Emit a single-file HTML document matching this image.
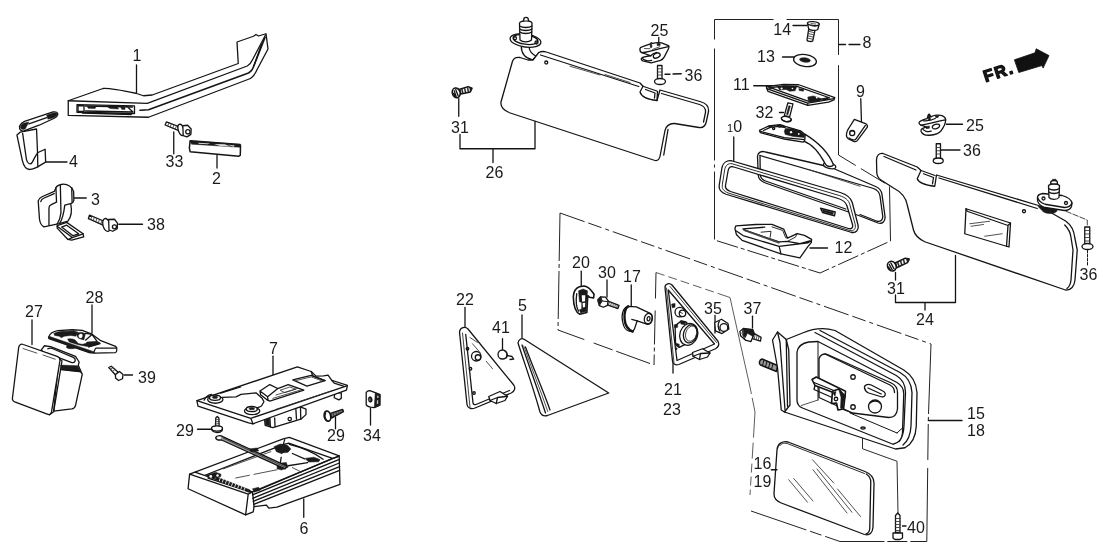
<!DOCTYPE html>
<html><head><meta charset="utf-8"><title>Parts diagram</title>
<style>
html,body{margin:0;padding:0;background:#fff;}
body{width:1108px;height:554px;overflow:hidden;}
svg{display:block;filter:grayscale(1)}
.l{fill:none;stroke:#141414;stroke-width:1.3px;stroke-linejoin:round;stroke-linecap:round;vector-effect:non-scaling-stroke}
.t{fill:none;stroke:#333;stroke-width:0.85px;stroke-linejoin:round;stroke-linecap:round;vector-effect:non-scaling-stroke}
.f{fill:#fff;stroke:#141414;stroke-width:1.3px;stroke-linejoin:round;stroke-linecap:round;vector-effect:non-scaling-stroke}
.k{fill:#1a1a1a;stroke:#1a1a1a;stroke-width:0.5px;stroke-linejoin:round;vector-effect:non-scaling-stroke}
.g{fill:#bbb;stroke:#1a1a1a;stroke-width:1px;stroke-linejoin:round;vector-effect:non-scaling-stroke}
.d{fill:none;stroke:#222;stroke-width:1px;vector-effect:non-scaling-stroke;stroke-dasharray:10 2.5 3 2.5}
text{font-family:"Liberation Sans",Arial,sans-serif;font-size:16px;fill:#1a1a1a}
</style></head><body>
<svg width="1108" height="554" viewBox="0 0 1108 554">
<rect width="1108" height="554" fill="#fff"/>
<!-- TILE A: handle (0,20) 4x -->
<g transform="translate(0,20) scale(0.25)">
<path class="f" d="M273 323 L412 274 C440 272 470 278 543 293 L574 303 L609 300 L953 174 L948 88 L1014 65 L1024 58 L1034 64 L1064 55 L1072 116 L1029 197 C1018 222 1008 232 994 237 L594 389 L273 381.5 Z"/>
<path class="l" d="M273 323 L589 333.5 L989 184 C1000 178 1005 170 1009 161 L1062 60"/>
<path class="l" d="M560 361 L594 359 L994 212 C1006 205 1012 195 1016 182 L1060 70" style="stroke-width:1.6px"/>
<path class="l" d="M1046 98 L1016 182" />
<path class="l" d="M308 338.5 L538 343.5 L538 374 L308 369 Z"/>
<path class="l" d="M312 342 L336 343 L336 366 L312 365 Z M342 344 L530 348 M342 364 L532 368 M508 346 L532 368 M330 372 L525 378"/>
<path class="k" d="M350 346 L385 347 L380 354 L352 353 Z M430 347 L470 348 L474 356 L440 354 Z M484 348 L500 349 L500 358 L486 357 Z"/>
<path class="l" d="M546 180 L546 290"/>
</g>
<!-- TILE B: (0,100) 4x -->
<g transform="translate(0,100) scale(0.25)">
<path class="l" d="M185 248 L268 248"/>
<path class="l" d="M695 128 L695 215"/>
<path class="l" d="M868 220 L868 272"/>
<path class="l" d="M296 392 L345 392"/>
<path class="l" d="M475 497 L570 497"/>
</g>
<!-- hook 4 hi-res tile (10,105) 7.9125x -->
<g transform="translate(10,105) scale(0.12638)">
<path class="f" d="M80 215 L55 238 L98 440 C110 490 135 512 160 510 C185 508 200 498 218 490 L282 452 L278 350 L218 378 L210 190 Z"/>
<path class="l" d="M100 225 L130 430 C138 465 160 475 175 455 C185 440 195 410 218 378 M218 378 L220 490"/>
<path class="f" d="M75 168 C85 145 100 135 115 130 L340 55 C365 50 380 60 378 75 C376 90 365 98 350 105 L230 160 L110 205 C90 210 72 195 75 168 Z"/>
<path class="k" d="M82 170 C90 150 105 142 125 140 L150 135 L120 190 C100 200 82 190 82 170 Z"/>
<path class="k" d="M290 80 L345 62 C365 58 375 65 372 78 C368 90 355 98 340 102 L300 112 Z"/>
<path class="l" d="M150 150 L290 100"/>
</g>
<!-- part 3 + screw 38 hi-res tile (30,175) 7.91x -->
<g transform="translate(30,175) scale(0.12642)">
<path class="f" d="M215 400 L290 375 L420 465 L425 490 L330 515 L300 510 L215 420 Z"/>
<path class="l" d="M250 412 L290 397 L385 465 L340 480 Z M420 465 L335 495 L300 510 M335 495 L215 405"/>
<path class="f" d="M65 205 C68 188 78 180 95 172 L192 130 L205 100 C215 82 235 75 260 73 C300 72 330 95 345 130 L347 200 C345 212 338 220 322 226 C335 290 320 340 300 365 L230 385 L110 410 C90 400 80 385 75 350 Z"/>
<path class="l" d="M205 100 L210 215 L168 235 C155 240 150 248 150 262 L150 398 M240 78 L245 300 C240 340 228 368 215 388 M322 226 L275 238 C268 300 255 350 235 382 M330 100 L333 215"/>
<path class="l" d="M85 210 C88 196 95 190 108 184 L192 148"/>
<!-- screw 38 -->
<path class="f" d="M470 318 L592 368 L582 398 L462 345 Z"/>
<path class="t" d="M490 326 L480 352 M510 334 L500 361 M530 342 L520 370 M550 351 L540 379 M570 360 L560 388"/>
<ellipse class="f" cx="605" cy="395" rx="28" ry="52" transform="rotate(-15 605 395)"/>
<path class="f" d="M622 352 L668 350 L692 380 L690 425 L655 445 L625 435 Z"/>
<circle class="l" cx="668" cy="410" r="16"/>
</g>
<!-- screw 33 hi-res tile (60,80) 7.914x -->
<g transform="translate(60,80) scale(0.12636)">
<path class="f" d="M842 332 L950 372 L940 400 L832 356 Z"/>
<path class="t" d="M862 340 L852 364 M882 347 L872 372 M902 355 L892 380 M922 362 L912 388"/>
<ellipse class="f" cx="958" cy="395" rx="22" ry="46" transform="rotate(-18 958 395)"/>
<path class="f" d="M972 362 L1010 358 L1038 388 L1036 430 L1005 450 L975 440 Z"/>
<circle class="l" cx="1012" cy="410" r="17"/>
</g>
<!-- part 2 hi-res (180,130) 13.85x -->
<g transform="translate(180,130) scale(0.0722)">
<path class="f" d="M140 150 L830 200 C838 205 840 215 838 230 L835 350 L815 362 L140 300 L130 250 Z" style="stroke-width:1.5px"/>
<path class="k" d="M140 150 L830 200 L836 240 L160 196 Z"/>
<path d="M250 178 L420 186 L380 198 L260 192 Z M470 195 L620 198 L700 230 L560 222 Z M660 205 L760 215 L740 232 Z" fill="#fff" opacity="0.85"/>
</g>
<!-- TILE C: (0,280) 4x -->
<g transform="translate(0,280) scale(0.25)">
<path class="l" d="M128 160 L128 258"/>
<path class="l" d="M368 100 L368 212"/>
<!-- screw 39 -->
<path class="f" d="M435 350 L445 345 L472 368 L462 380 Z"/>
<path class="t" d="M442 358 L452 350 M450 366 L460 358"/>
<path class="f" d="M462 378 L478 366 L492 378 L490 395 L474 402 L462 392 Z"/>
<path class="l" d="M497 380 L530 380"/>
</g>
<!-- part 28 hi-res tile (40,320) 12.31x -->
<g transform="translate(40,320) scale(0.081235)">
<ellipse class="k" cx="385" cy="328" rx="60" ry="26"/>
<path class="f" d="M105 212 C120 170 170 140 220 132 L400 120 L520 128 L640 175 L740 250 L930 325 C945 335 950 350 945 370 C942 390 938 400 930 402 L680 408 L600 400 L110 228 Z"/>
<path class="k" d="M105 212 L112 200 L610 372 L660 390 L680 408 L600 400 L110 228 Z"/>
<path class="k" d="M170 165 C200 148 260 140 300 140 L420 135 L470 150 L440 200 L380 190 L300 200 L260 220 L240 200 L180 190 Z"/>
<path class="k" d="M340 235 C380 225 430 235 445 260 L470 290 L520 300 L560 290 L580 270 L700 262 L740 280 L720 298 L600 330 L470 305 L360 270 Z"/>
<path class="k" d="M455 180 C460 160 480 150 505 150 L560 165 L540 245 L500 235 C470 225 450 205 455 180 Z"/>
<ellipse cx="500" cy="196" rx="24" ry="28" fill="#fff" transform="rotate(20 500 196)"/>
<path class="l" d="M560 165 L640 178 L700 260 M640 178 L560 248"/>
<path class="l" d="M600 332 L740 292 M665 392 C672 370 676 355 690 345 L935 345"/>
</g>
<!-- part 27 hi-res tile (0,335) 6.518x -->
<g transform="translate(0,335) scale(0.15342)">
<path class="f" d="M268 98 L290 70 L330 76 L492 140 L516 176 L510 198 L536 256 L492 460 C488 474 480 480 468 482 L350 496 L380 200 Z"/>
<path class="l" d="M312 90 C320 84 330 84 340 88 L478 146 C490 152 494 162 488 172 C484 180 474 182 464 178 L300 116"/>
<path class="k" d="M395 196 L505 200 L534 254 L520 240 L400 226 Z"/>
<path class="l" d="M400 226 L520 238"/>
<path class="f" d="M122 80 C126 62 138 56 152 62 L372 140 C388 146 394 156 390 172 L336 500 C332 518 322 522 308 516 L96 436 C82 430 78 420 82 404 Z"/>
<path class="l" d="M390 160 L404 168 L350 500 L322 520"/>
<path class="t" d="M150 88 L240 118 M280 130 L360 158"/>
</g>
<!-- TILE D: (170,330) 4x : part 7, screws 29, nut 34 -->
<g transform="translate(170,330) scale(0.25)">
<path class="l" d="M412 105 L412 185"/>
<path class="l" d="M110 397 L165 397"/>
<path class="l" d="M662 348 L662 395"/>
<path class="l" d="M802 312 L802 380"/>
</g>
<g transform="translate(170,416) scale(0.25)">
<path class="l" d="M535 332 L535 405"/>
</g>
<!-- plate 7 hi-res tile (190,360) 6.518x -->
<g transform="translate(190,360) scale(0.15342)">
<path class="f" d="M485 376 L520 360 L720 305 L756 320 L756 356 L722 386 L540 440 L490 426 Z"/>
<path class="l" d="M520 362 L524 436 M552 378 L554 432 M690 318 L694 386 M720 305 L722 386"/>
<path class="k" d="M490 380 L518 368 L520 430 L492 422 Z"/>
<circle class="l" cx="650" cy="385" r="11"/>
<path class="f" d="M940 246 L944 214 L986 214 L986 250 L970 260 Z"/>
<path class="f" d="M45 265 L700 45 L790 75 L822 105 L870 104 L900 98 L924 132 L1026 166 L1020 196 L410 416 L382 410 L52 300 Z"/>
<path class="l" d="M45 265 L396 380 L1022 168 M396 380 L410 416"/>
<path class="l" d="M92 262 C100 240 120 228 140 224 M210 244 L300 240 L332 224 L430 214 L470 250 L482 272 L466 300 L440 312 M200 216 L330 176"/>
<path class="l" d="M456 202 L520 160 L572 186 L506 240 Z M506 240 L508 262 M456 202 L460 226 L506 262"/>
<path class="l" d="M572 186 L640 160 L742 196 L520 268 L508 262"/>
<path class="t" d="M560 228 L700 186 M540 250 L720 196 M590 196 L650 176 L690 190 L620 212 Z"/>
<path class="l" d="M670 130 L790 100 L880 134 L762 170 Z"/>
<path class="t" d="M690 134 L790 110 L860 136"/>
<path class="l" d="M790 75 L800 104 L880 134 M924 132 L940 150 L1000 170"/>
<path class="t" d="M560 322 L920 202"/>
<ellipse class="f" cx="165" cy="258" rx="50" ry="24"/><ellipse class="f" cx="163" cy="246" rx="36" ry="17"/><ellipse class="k" cx="163" cy="243" rx="18" ry="8"/>
<ellipse class="f" cx="405" cy="332" rx="50" ry="24"/><ellipse class="f" cx="403" cy="320" rx="36" ry="17"/><ellipse class="k" cx="403" cy="317" rx="18" ry="8"/>
<!-- screw 29 left -->
<path class="f" d="M168 378 L178 368 L188 378 L190 432 L166 432 Z"/>
<path class="t" d="M166 390 L190 386 M166 404 L190 400 M166 418 L190 414"/>
<ellipse class="f" cx="176" cy="446" rx="36" ry="17"/>
<path class="l" d="M142 450 L146 462 C160 476 196 476 208 462 L210 450"/>
<!-- screw 29 right -->
<path class="f" d="M915 348 L994 322 L1000 336 L922 378 Z" style="fill:#777;stroke-width:1.5px"/>
<path class="t" d="M932 346 L940 366 M950 340 L958 358 M968 334 L976 350"/>
<ellipse class="f" cx="896" cy="366" rx="21" ry="33" transform="rotate(-12 896 366)" style="stroke-width:1.7px"/>
<path class="l" d="M884 345 C878 360 880 380 890 392"/>
</g>
<!-- tray 6 hi-res tile (185,432) 6.518x -->
<g transform="translate(185,432) scale(0.15342)">
<path class="f" d="M65 262 L640 45 L680 35 L1005 155 L1010 342 L600 490 L546 496 L530 476 L450 486 L445 520 L395 540 L20 370 L30 275 Z"/>
<path class="l" d="M30 275 L412 405 L440 390 L65 262 M412 405 L395 540 M440 390 L450 486"/>
<path class="l" d="M440 390 L1005 155 M440 410 L1006 178 M442 432 L1006 202 M445 452 L1008 226 M448 472 L1008 250"/>
<path class="l" d="M130 282 L640 82 L676 72 L962 172 L480 378 M640 82 L650 50 M962 172 L1000 160"/>
<path class="l" d="M150 300 L440 395 M640 82 L620 210"/>
<path class="t" d="M330 300 L420 282 M450 276 L600 246 M250 240 L560 128 M700 232 L760 262"/>
<path class="k" d="M205 292 L425 378 L420 395 L200 310 Z"/>
<path class="t" style="stroke:#fff" d="M230 300 L224 318 M250 308 L244 326 M270 316 L264 334 M290 324 L284 342 M310 332 L304 350 M330 340 L324 358 M350 348 L344 366 M370 356 L364 374 M390 364 L384 382"/>
<path class="k" d="M140 280 L200 262 L235 275 L232 292 L190 300 L150 296 Z"/>
<circle cx="168" cy="290" r="9" fill="#fff"/><circle cx="212" cy="284" r="8" fill="#fff"/>
<path class="k" d="M580 96 L620 78 L668 86 L690 110 L672 132 L622 138 L596 128 Z"/>
<path class="k" d="M600 205 L660 198 L672 230 L630 248 L600 240 Z"/>
<path class="k" d="M782 172 L840 164 L880 180 L872 194 L806 196 Z"/>
<path class="l" d="M680 80 C760 100 840 130 900 178 M672 220 L800 200 M700 140 L780 175"/>
<ellipse cx="632" cy="152" rx="16" ry="9" fill="#fff" transform="rotate(-20 632 152)"/>
<path class="k" d="M440 370 L480 360 L490 380 L450 392 Z"/>
<!-- bracket bar -->
<path class="f" d="M200 36 C202 24 230 20 246 30 L664 222 L652 240 L238 52 C220 56 198 50 200 36 Z" style="fill:#9a9a9a"/>
<ellipse cx="222" cy="38" rx="14" ry="8" fill="#fff"/>
<path class="t" d="M250 40 L655 230"/>
<path class="k" d="M420 110 L470 104 L480 124 L430 130 Z"/>
</g>
<!-- nut 34 hi-res (320,380) 13.85x -->
<g transform="translate(320,380) scale(0.0722)">
<path class="f" d="M640 175 C642 160 655 150 690 146 L765 176 L832 202 L830 350 L752 382 L700 376 C660 365 642 355 640 340 Z"/>
<path class="k" d="M765 176 L832 202 L830 350 L752 382 Z"/>
<path d="M790 215 L812 222 L810 250 L790 245 Z M788 280 L808 282 L806 330 L786 335 Z" fill="#fff" opacity="0.7"/>
<ellipse class="k" cx="696" cy="270" rx="28" ry="40" transform="rotate(-8 696 270)"/>
<ellipse cx="690" cy="272" rx="10" ry="18" fill="#777"/>
</g>
<!-- TILE F: (440,0) 4x : left visor 26 -->
<g transform="translate(440,0) scale(0.25)">
<!-- hinge arm -->
<path class="f" d="M325 185 C325 215 340 232 370 240 L385 225 C365 215 358 205 356 188 Z"/>
<!-- visor -->
<path class="f" d="M290 245 C295 232 305 228 320 230 L352 240 L372 240 L395 210 C405 205 415 205 425 208 L800 332 L812 345 L800 368 C805 385 830 398 868 402 L880 360 L1043 407 C1064 413 1076 425 1074 446 L1065 488 C1061 505 1050 512 1036 510 L938 494 C918 493 905 503 900 522 L882 615 C880 635 872 646 857 641 L278 451 C256 442 241 428 244 408 Z"/>
<path class="l" d="M402 220 L795 346 M886 374 L1038 418 C1056 424 1064 434 1062 450 L1054 488 M912 518 L895 620"/>
<path class="l" d="M812 345 L870 365 L868 402 M822 358 L860 372 L858 392"/>
<path class="t" d="M520 265 L640 300 M660 298 L760 330"/>
<circle class="l" cx="425" cy="250" r="6"/>
<!-- hinge mount -->
<ellipse class="f" cx="342" cy="162" rx="62" ry="26" transform="rotate(8 342 162)"/>
<ellipse class="l" cx="342" cy="158" rx="50" ry="19" transform="rotate(8 342 158)"/>
<circle class="l" cx="300" cy="153" r="6"/><circle class="l" cx="386" cy="170" r="6"/>
<path class="f" d="M318 92 L320 160 C330 170 355 170 366 160 L368 92 C362 80 326 80 318 92 Z"/>
<path class="l" d="M318 104 C330 112 356 112 368 104 M318 116 C330 124 356 124 368 116 M319 128 C330 136 356 136 367 128"/>
<path class="f" d="M334 82 L336 73 C340 68 348 68 352 73 L354 82"/>
<path class="l" d="M75 395 L75 465"/>
<path class="l" d="M80 538 L80 595 L380 595 L380 486 M212 595 L212 650"/>
<path class="l" d="M875 150 L875 174"/>
<!-- bolt 36 -->
<path class="f" d="M870 262 L888 262 L888 318 L870 318 Z"/>
<path class="t" d="M870 275 L888 275 M870 288 L888 288 M870 300 L888 300"/>
<ellipse class="f" cx="880" cy="326" rx="22" ry="12"/>
<path class="l" d="M900 297 L920 297 M932 296 L965 295"/>
</g>
<!-- clip 25 left hi-res (630,35) 11.08x -->
<g transform="translate(630,35) scale(0.090253)">
<path class="f" d="M110 152 C112 140 125 135 140 130 L225 98 L235 86 L250 92 C280 84 320 82 350 88 L425 118 C434 124 432 140 426 152 L382 240 C370 262 355 275 338 282 L235 310 L142 286 C125 278 120 265 130 256 C140 246 160 240 230 230 L132 196 C118 190 108 175 110 152 Z"/>
<path class="l" d="M132 196 C180 190 260 170 330 150 L426 128 M230 230 C250 205 275 195 300 192 M140 262 C160 285 210 292 240 282"/>
<ellipse class="l" cx="296" cy="228" rx="40" ry="26" transform="rotate(-25 296 228)"/>
<path class="k" d="M222 104 L240 98 L244 135 L226 140 Z M300 92 L334 92 L334 116 L300 116 Z"/>
<path class="t" d="M160 150 L220 152 M250 160 L330 130"/>
</g>
<!-- screw 31 left hi-res (440,75) 18.47x -->
<g transform="translate(440,75) scale(0.054142)">
<path class="f" d="M365 262 L520 215 L592 245 L560 315 L385 352 Z" style="stroke-width:1.5px"/>
<path class="k" d="M395 262 L415 345 L432 342 L412 258 Z M445 248 L468 335 L485 330 L462 243 Z M498 232 L520 322 L536 318 L515 226 Z M545 228 L575 250 L560 305 Z"/>
<ellipse class="f" cx="300" cy="330" rx="72" ry="92" transform="rotate(-15 300 330)" style="stroke-width:1.6px"/>
<path class="l" d="M262 290 L300 400 M290 268 L335 385 M250 340 L285 410"/>
</g>
<!-- box 8 frame in source coords -->
<g>
<path class="d" d="M838.5 19.5 L714.5 19.5 L714.5 240 L820 273 L890.5 241" style="stroke-dasharray:52 13 79 9 112 4 3 4 68 3 22 3 4 3 22 3 4 3 22 3 4 3 22 3 4 3 22 3 4 3 22 3 4 3 22 3 4 3 22"/>
<path class="d" d="M838.5 19.5 L838.5 155 L889.5 186 L890.5 241" style="stroke-dasharray:35.4 10.3 110 6 28 6 200"/>
<path class="l" d="M838.5 44.5 L845.5 44.5 M849 44.5 L860 44.5"/>
</g>
<!-- TILE G: (700,0) 4x : box 8 top, 14,13,11,32,9 -->
<g transform="translate(700,0) scale(0.25)">
<path class="l" d="M372 102 L428 102"/>
<!-- 13 washer -->
<ellipse class="f" cx="420" cy="242" rx="46" ry="24" transform="rotate(8 420 242)"/>
<ellipse class="k" cx="420" cy="240" rx="22" ry="9" transform="rotate(8 420 240)"/>
<path class="l" d="M330 228 L376 228"/>
<path class="l" d="M215 343 L300 343"/>
<path class="l" d="M318 450 L334 450"/>
<path class="l" d="M643 395 L646 492"/>
</g>
<!-- TILE H: (700,100) 4x : mirror 10 -->
<g transform="translate(700,100) scale(0.25)">
<!-- rear housing -->
<path class="f" d="M230 225 C232 210 245 202 262 208 L520 268 L700 345 C718 352 726 362 728 378 L740 465 C742 485 730 498 712 492 L640 464 L262 332 C245 326 235 318 233 302 Z"/>
<path class="l" d="M240 222 L694 354 C710 360 718 370 720 384 L731 465 C732 480 722 488 708 485 L640 458"/>
<path class="l" d="M240 222 L241 300 C243 312 250 320 262 324 L583 436"/>
<path class="t" d="M440 280 L640 345"/>
<!-- tab -->
<path class="f" d="M482 433 L541 448 L538 463 L490 450 Z"/>
<path class="k" d="M488 438 L534 450 L532 458 L492 447 Z"/>
<!-- front frame (ring) -->
<path class="f" fill-rule="evenodd" d="M88 270 C92 252 106 240 126 243 L561 370 C590 379 603 390 609 410 L632 500 C636 520 624 534 604 529 L104 377 C84 370 74 358 77 340 Z M112 285 C114 272 120 264 132 267 L553 394 C575 401 584 410 588 424 L610 498 C613 510 606 518 594 514 L122 366 C106 360 100 352 102 342 Z"/>
<path class="l" d="M99 277 C102 262 112 252 128 255 L557 382 C582 390 594 400 599 417 L621 499 C624 515 615 526 599 522 L113 372 C95 365 87 355 89 341 Z" style="stroke-width:0.9px"/>
<path class="l" d="M135 148 L135 243"/>
<path class="l" d="M985 97 L1050 97"/>
<!-- bolt 36 right -->
<path class="f" d="M945 175 L962 175 L962 236 L945 236 Z"/>
<path class="t" d="M945 190 L962 190 M945 203 L962 203 M945 216 L962 216"/>
<ellipse class="f" cx="953" cy="243" rx="20" ry="11"/>
<path class="l" d="M965 200 L1040 200"/>
</g>
<!-- TILE I: (700,190) 4x : part 12, screw 31 right, bracket 24 -->
<g transform="translate(700,190) scale(0.25)">
<path class="l" d="M440 232 L510 232"/>
<path class="l" d="M782 330 L782 360 M782 420 L782 450 L1022 450 L1022 262 M900 450 L900 480"/>
</g>
<!-- clip 25 right hi-res (910,105) 11.08x -->
<g transform="translate(910,105) scale(0.090253)">
<path class="f" d="M100 192 C115 175 150 160 190 150 L205 105 C210 98 216 100 220 110 L232 132 C260 112 320 105 355 118 C380 128 395 145 395 165 C395 200 380 235 345 285 C320 315 280 330 220 335 C170 338 135 325 122 290 C120 275 125 265 140 260 L182 242 L120 222 C105 215 98 205 100 192 Z"/>
<path class="l" d="M120 222 C180 215 240 200 300 185 C340 175 370 170 395 165 M140 262 C150 290 200 302 235 290 M150 175 C200 180 240 170 280 150"/>
<ellipse class="l" cx="288" cy="238" rx="42" ry="24" transform="rotate(-18 288 238)"/>
<path class="k" d="M198 120 L222 112 L228 165 L204 172 Z M175 240 L215 232 L215 258 L180 262 Z M280 120 L320 118 L310 140 L285 140 Z"/>
</g>
<!-- screw 14 hi-res (755,15) 11.08x -->
<g transform="translate(755,15) scale(0.090253)">
<path class="f" d="M596 150 L576 278 C585 295 625 298 640 288 L664 172 Z"/>
<path class="t" d="M592 180 L658 196 M588 205 L654 221 M584 230 L649 246 M580 255 L644 270"/>
<path class="f" d="M582 96 L594 150 C610 172 670 178 696 160 L712 100 Z"/>
<ellipse class="f" cx="647" cy="96" rx="66" ry="22" transform="rotate(6 647 96)"/>
<path class="t" d="M620 96 L672 100 M630 120 L670 124"/>
</g>
<!-- plate 11 + bolt 32 hi-res (750,75) 11.08x -->
<g transform="translate(750,75) scale(0.090253)">
<path class="f" d="M180 130 L370 105 L540 108 L940 250 L930 276 L870 300 L640 336 L200 182 Z"/>
<path class="l" d="M186 152 L640 312 L930 262 M640 312 L640 336 M225 140 L380 122 L520 126 L880 252 L650 292 Z"/>
<path class="k" d="M300 128 L370 118 L520 124 L500 175 L440 180 L400 160 L330 165 Z"/>
<path class="k" d="M640 245 L700 232 L790 262 L770 290 L680 300 L645 280 Z"/>
<path class="k" d="M200 135 L240 130 L250 150 L215 156 Z M540 150 L600 160 L590 180 L545 172 Z M800 262 L850 255 L870 270 L820 282 Z"/>
<circle cx="350" cy="150" r="12" fill="#fff"/><circle cx="740" cy="250" r="10" fill="#fff"/><circle cx="470" cy="150" r="9" fill="#fff"/>
<!-- bolt 32 -->
<path class="f" d="M420 308 L476 320 L440 462 L380 450 Z"/>
<path class="k" d="M430 340 L448 344 L420 440 L404 436 Z"/>
<ellipse class="f" cx="402" cy="488" rx="56" ry="28" transform="rotate(12 402 488)"/>
<path class="l" d="M348 478 C350 500 380 520 420 515 C445 512 458 500 458 490"/>
</g>
<!-- mount + stem hi-res (750,115) 11.08x -->
<g transform="translate(750,115) scale(0.090253)">
<ellipse class="f" cx="882" cy="562" rx="70" ry="30" transform="rotate(15 882 562)"/>
<path class="f" d="M600 292 C680 320 760 400 838 548 C855 575 905 580 925 552 C880 440 800 330 608 212 Z"/>
<path class="f" d="M105 170 L210 120 L330 108 L390 125 L560 175 L610 215 L606 285 L590 300 L380 266 L115 196 Z"/>
<path class="l" d="M112 182 L380 250 L604 272 M150 172 L230 135 L330 125 L390 140"/>
<path class="k" d="M392 150 L470 150 L560 180 L604 218 L600 250 L480 238 L390 215 L380 180 Z"/>
<path class="k" d="M200 125 L240 118 L250 135 L215 142 Z M300 110 L370 112 L385 130 L320 138 Z"/>
<circle cx="455" cy="190" r="13" fill="#fff"/><circle cx="540" cy="210" r="10" fill="#fff"/>
<circle class="l" cx="262" cy="150" r="12"/>
</g>
<!-- part 12 hi-res (725,220) 11.08x -->
<g transform="translate(725,220) scale(0.090253)">
<path class="f" d="M120 65 L340 50 L520 48 L650 100 L692 200 L800 150 L880 170 L960 215 L956 250 L920 292 L830 420 L620 376 L190 226 L126 160 L110 95 Z"/>
<path class="l" d="M126 122 L200 172 L600 292 L920 252 L956 232 M600 292 L620 376 M200 98 L440 80 M200 98 L230 118 L600 242 L690 236 L830 262 L940 230"/>
<path class="l" d="M520 76 L640 116 L672 196 L692 200 M800 150 L780 190 L700 232 M400 135 L510 125 L500 192" style="stroke-width:0.9px"/>
<path class="l" d="M215 112 L596 250" style="stroke-width:2px;stroke:#444"/>
</g>
<!-- part 9 hi-res (830,100) 11.08x -->
<g transform="translate(830,100) scale(0.090253)">
<path class="f" d="M270 215 L400 265 C415 275 418 290 412 304 L302 450 C290 462 275 464 262 458 L205 432 C185 420 178 395 185 365 C192 340 200 325 210 310 Z"/>
<path class="l" d="M392 282 L282 438 M210 420 C235 440 262 445 282 438"/>
<circle class="l" cx="246" cy="366" r="28"/>
<path class="l" d="M232 350 C240 340 258 342 266 354" style="stroke-width:0.8px"/>
</g>
<!-- screw 31 right hi-res (875,248) 18.47x -->
<g transform="translate(875,248) scale(0.054142)">
<path class="f" d="M380 272 L560 188 L632 205 L600 270 L400 365 Z" style="stroke-width:1.5px"/>
<path class="k" d="M410 262 L435 345 L452 338 L428 254 Z M462 238 L488 320 L505 312 L480 230 Z M515 212 L540 296 L557 288 L532 205 Z M575 195 L620 212 L598 262 Z"/>
<ellipse class="f" cx="310" cy="335" rx="78" ry="92" transform="rotate(-25 310 335)" style="stroke-width:1.6px"/>
<path class="l" d="M262 300 L318 405 M292 275 L352 385 M250 350 L290 415"/>
</g>
<!-- TILE J: (831,130) 4x : right visor 24 -->
<g transform="translate(831,130) scale(0.25)">
<path class="f" d="M182 120 C182 102 192 92 208 94 L345 148 L360 162 L345 195 C350 210 375 220 415 225 L422 180 L830 302 L872 326 L940 365 C960 380 972 400 975 430 L985 480 L976 600 C974 625 960 642 938 640 L375 447 C350 435 335 420 330 400 L305 300 C300 270 285 250 250 232 L200 200 C188 192 184 185 183 170 Z"/>
<path class="l" d="M212 106 L340 160 M432 192 L825 314 M935 380 C950 395 958 410 960 430 L968 480 L960 600 C958 618 952 628 944 634"/>
<path class="l" d="M360 162 L416 182 M370 175 L410 190 L406 215"/>
<path class="f" d="M540 315 L718 372 L712 468 L535 415 Z"/>
<path class="l" d="M718 372 L708 382 L702 465 M540 315 L545 325 L708 382"/>
<path class="t" d="M555 375 L635 365 M560 385 L610 378 M615 425 L685 415"/>
<circle class="l" cx="772" cy="325" r="6"/>
<!-- hinge -->
<path class="k" d="M828 306 C840 296 900 310 905 322 C900 336 870 338 850 328 Z"/>
<path class="f" d="M826 270 C826 262 834 256 847 254 L925 262 C945 268 962 280 964 292 L962 306 C958 316 946 322 934 322 L856 310 C840 304 828 294 826 282 Z"/>
<path class="l" d="M826 270 C830 282 842 292 856 297 L934 310 C948 310 960 302 964 292"/>
<circle class="l" cx="850" cy="274" r="6"/><circle class="l" cx="940" cy="292" r="6"/>
<path class="f" d="M870 222 L872 270 C880 280 905 280 912 270 L914 222 C905 212 880 212 870 222 Z"/>
<path class="l" d="M870 234 C882 242 902 242 914 234 M871 248 C882 256 902 256 913 248"/>
<path class="f" d="M878 216 L880 206 C886 200 900 200 905 206 L906 216 Z"/>
<path class="k" d="M884 204 L886 197 L900 197 L902 204 Z"/>
<!-- dashed to bolt -->
<path class="l" d="M940 325 L1025 360 L1025 385" style="stroke-dasharray:5.5 2;stroke-width:0.8px"/>
<path class="f" d="M1015 388 L1035 388 L1035 456 L1015 456 Z"/>
<path class="t" d="M1015 402 L1035 402 M1015 416 L1035 416 M1015 430 L1035 430 M1015 444 L1035 444"/>
<ellipse class="f" cx="1026" cy="466" rx="22" ry="12"/>
<path class="l" d="M1026 482 L1026 545" style="stroke-dasharray:2.5 1.5;stroke-width:1px"/>
</g>
<!-- dash-dot boundaries in source coords -->
<g>
<path d="M560 213 L931 344" fill="none" stroke="#222" stroke-width="1" stroke-dasharray="26 4 14 4 4 4"/>
<path d="M931 344 L928.3 420 L926.8 541.5 L840 541.5 L751 511" fill="none" stroke="#222" stroke-width="1" stroke-dasharray="70 3 4 3 36 8 90 3 20 3 60 4 12 4"/>
<path d="M560 213 L558 330" fill="none" stroke="#222" stroke-width="1" stroke-dasharray="48 3 4 3"/>
<path d="M558 330 L654 365" fill="none" stroke="#222" stroke-width="1" stroke-dasharray="28 10 20 4 36 4"/>
<path d="M656 272.5 L654 365" fill="none" stroke="#222" stroke-width="1" stroke-dasharray="26 12 34 3 4 3"/>
<path d="M656 272.5 L730 297.5 L750 387 L755 412 L750 495" fill="none" stroke="#333" stroke-width="0.8" stroke-dasharray="9 4 9 4 9 4 9 4 9 4 12 0 100 4 40 5 16 5"/>
</g>
<!-- TILE K: (430,200) 4x : leaders 20,30,17 -->
<g transform="translate(430,200) scale(0.25)">
<path class="l" d="M605 285 L605 345"/>
<path class="l" d="M708 320 L708 388"/>
<path class="l" d="M805 340 L805 424"/>
</g>
<!-- 20,30,17 hi-res (565,280) 11.08x -->
<g transform="translate(565,280) scale(0.090253)">
<!-- 20 -->
<path class="f" d="M92 185 C95 130 120 90 160 75 L212 66 C250 72 285 100 322 158 L316 200 L272 192 L252 172 L242 360 L165 380 C120 360 95 300 92 185 Z" style="stroke-width:1.6px"/>
<path class="k" d="M150 120 L200 100 L250 120 L245 175 L236 350 L172 365 L160 330 L185 320 L185 250 L160 240 Z"/>
<path d="M185 170 L225 168 L222 235 L190 240 Z M195 255 L225 252 L222 300 L198 305 Z" fill="#fff"/>
<path class="l" d="M130 150 C120 220 125 300 150 345"/>
<!-- 30 -->
<path class="f" d="M470 232 L598 282 L586 316 L462 272 Z"/>
<path class="t" d="M492 240 L482 278 M515 250 L505 287 M538 258 L528 296 M560 267 L550 304 M580 275 L571 311"/>
<path class="f" d="M362 220 L395 186 L450 190 L478 230 L470 282 L425 302 L380 284 Z"/>
<path class="l" d="M395 186 L412 232 L380 284 M412 232 L470 240" style="stroke-width:1px"/>
<path class="k" d="M365 222 L392 192 L408 232 L382 278 Z"/>
<!-- 17 -->
<path class="f" d="M700 292 L790 297 L950 372 C975 390 975 450 950 478 C935 492 910 492 890 484 L800 452 L770 542 L750 572 C700 575 660 545 648 500 C630 440 630 370 650 330 C662 308 680 296 700 292 Z"/>
<path class="l" d="M700 292 C670 310 655 360 660 430 C664 490 690 545 750 572" style="stroke-width:2.4px"/>
<path class="l" d="M740 437 L800 452"/>
<ellipse class="l" cx="922" cy="428" rx="42" ry="58" transform="rotate(15 922 428)"/>
<ellipse class="l" cx="926" cy="430" rx="16" ry="24" transform="rotate(15 926 430)"/>
</g>
<!-- TILE L: (430,300) 4x : 22, 41, 5 -->
<g transform="translate(430,300) scale(0.25)">
<path class="f" d="M118 128 C120 110 140 104 152 116 L335 340 C343 352 338 366 325 372 L180 432 C165 438 150 432 148 418 Z"/>
<path class="l" d="M143 138 L172 412 C174 418 178 420 184 418 L318 362"/>
<path class="l" d="M130 132 L160 428" style="stroke-width:0.8px"/>
<path class="t" d="M170 175 L200 210 M225 245 L250 275 M190 170 L160 150"/>
<path class="f" d="M235 386 L280 366 L310 385 L300 402 L265 414 L240 402 Z"/>
<path class="l" d="M240 402 L270 390 L310 385 M270 390 L265 414"/>
<circle class="l" cx="150" cy="195" r="5"/><circle class="l" cx="162" cy="275" r="5"/><circle class="l" cx="176" cy="372" r="5"/>
<circle class="f" cx="185" cy="225" r="19"/><circle class="l" cx="192" cy="230" r="11"/>
<path class="l" d="M140 30 L140 106"/>
<!-- 41 -->
<circle class="f" cx="290" cy="218" r="18"/>
<path class="l" d="M300 205 C310 210 312 225 304 232 M310 222 L328 226 L335 236 L320 238"/>
<path class="l" d="M290 155 L290 198"/>
<!-- 5 glass -->
<path class="f" d="M352 172 C354 158 365 150 378 158 L715 372 L470 462 C455 466 445 460 440 448 C410 340 380 260 352 172 Z"/>
<path class="l" d="M382 188 C412 270 452 360 480 440 M368 180 C398 270 432 360 462 452"/>
<path class="t" d="M375 184 C405 270 442 360 471 446"/>
<path class="l" d="M368 60 L368 150"/>
<!-- leader 21/23 -->
<path class="l" d="M972 240 L972 292"/>
</g>
<!-- TILE M: (620,250) 4x : 21/23 frame -->
<g transform="translate(620,250) scale(0.25)">
<path class="f" d="M180 150 C180 135 198 130 208 140 L392 365 C398 378 394 388 382 395 L235 458 C222 462 212 456 210 445 Z"/>
<path class="l" d="M193 160 L378 376 L228 442 Z"/>
<path class="l" d="M186 152 L216 452 M200 146 L386 370" style="stroke-width:0.8px"/>
<path class="f" d="M290 410 L330 395 L360 412 L350 428 L318 438 L292 425 Z"/>
<path class="l" d="M292 425 L322 414 L360 412 M322 414 L318 438"/>
<circle class="k" cx="212" cy="220" r="4"/><circle class="k" cx="225" cy="395" r="4"/>
<path class="l" d="M380 262 L380 332"/>
<path class="l" d="M530 265 L530 312"/>
</g>
<!-- motor, stud, 35, 37 hi-res (650,290) 9.233x -->
<g transform="translate(650,290) scale(0.108307)">
<path class="f" d="M232 330 L290 285 L340 300 L330 500 L270 530 L236 500 Z"/>
<path class="k" d="M280 285 L330 290 L325 320 L285 315 Z M225 320 L255 315 L255 345 L228 350 Z M236 490 L270 500 L270 530 L240 515 Z"/>
<ellipse class="f" cx="358" cy="410" rx="82" ry="102" transform="rotate(18 358 410)"/>
<ellipse class="l" cx="372" cy="405" rx="62" ry="84" transform="rotate(18 372 405)"/>
<ellipse class="l" cx="380" cy="403" rx="50" ry="72" transform="rotate(18 380 403)" style="stroke-width:0.8px"/>
<circle class="f" cx="275" cy="205" r="44"/>
<circle class="f" cx="300" cy="215" r="30"/>
<path class="l" d="M275 205 L300 215" style="stroke-width:0.8px"/>
<path class="k" d="M200 130 L232 125 L230 160 L205 165 Z"/>
<!-- 35 -->
<path class="f" d="M598 300 L660 270 L720 310 L728 360 L665 402 L604 378 Z"/>
<circle class="f" cx="682" cy="346" r="36"/>
<path class="l" d="M640 290 C625 310 625 350 645 380"/>
<!-- 37 -->
<path class="f" d="M955 398 L1026 438 L1020 472 L946 448 Z"/>
<path class="t" d="M972 408 L962 452 M990 418 L980 458 M1008 428 L998 464"/>
<path class="f" d="M830 382 L862 355 L950 366 L962 402 L932 476 L880 462 L836 422 Z"/>
<path class="k" d="M862 355 L950 366 L962 402 L950 430 L900 400 L880 440 L860 420 Z"/>
<path class="l" d="M862 355 L850 400 L880 462" style="stroke-width:0.9px"/>
</g>
<!-- TILE N: (740,310) 4x : door mirror housing 15/18 -->
<g transform="translate(740,310) scale(0.25)">
<!-- stud -->
<path class="f" d="M88 196 L150 222 L146 246 L82 220 C74 214 78 198 88 196 Z" style="stroke-width:1.5px;fill:#999"/>
<path class="t" d="M96 200 L90 222 M108 205 L102 227 M120 210 L114 232 M132 215 L126 237" style="stroke:#111;stroke-width:1px"/>
<!-- housing shell -->
<path class="f" d="M185 118 L250 92 C290 75 340 70 380 82 L655 240 C690 262 705 290 708 330 L705 465 C703 505 690 535 660 551 L622 556 L178 408 Z"/>
<path class="l" d="M320 82 L640 250 C672 268 686 295 688 330 L684 465 C682 500 672 524 652 540"/>
<path class="l" d="M300 90 L625 262 C652 278 662 300 662 330 L656 462 C655 492 648 512 636 526"/>
<!-- opening -->
<path class="f" d="M228 168 C232 146 250 132 275 128 L312 126 L628 290 C648 302 655 315 655 335 L650 492 C648 517 635 532 612 537 L250 392 C235 386 228 375 228 360 Z"/>
<path class="l" d="M312 126 L312 360 M628 492 L650 472 M440 412 L628 492" style="stroke-width:1px"/>
<path class="t" d="M312 360 L245 382"/>
<!-- actuator plate -->
<path class="f" d="M316 195 C320 180 335 172 350 178 L605 292 C622 300 630 312 630 330 L630 395 C628 418 615 430 595 430 L450 412 L316 350 Z"/>
<path class="l" d="M340 176 L600 300 C612 306 618 316 618 330"/>
<!-- arm -->
<path class="f" d="M288 278 L305 268 L422 325 L420 348 L300 302 Z" style="stroke-width:1.6px"/>
<path class="l" d="M296 290 L415 338 M300 302 L296 318 L380 355"/>
<path class="f" d="M370 325 L395 316 L420 345 L414 396 L392 400 L386 372 L366 374 Z" style="stroke-width:1.7px"/>
<path class="k" d="M395 318 L418 345 L412 392 L402 392 L404 350 Z M370 330 L384 326 L380 345 Z"/>
<circle class="l" cx="384" cy="356" r="7"/>
<path class="l" d="M405 395 L450 412"/>
<circle class="l" cx="452" cy="268" r="9"/><circle class="l" cx="452" cy="388" r="9"/>
<path class="f" d="M498 312 C496 300 510 294 525 300 L575 326 C586 334 582 348 568 348 L515 332 C505 328 500 322 498 312 Z"/>
<path class="l" d="M512 312 L565 336"/>
<circle class="f" cx="540" cy="386" r="26"/>
<path class="l" d="M520 372 C530 362 552 362 562 374"/>
<ellipse class="l" cx="492" cy="472" rx="9" ry="4"/>
<!-- base flag -->
<path class="f" d="M130 120 L150 88 L185 118 L195 160 L200 380 L178 408 L165 400 L150 230 Z"/>
<path class="l" d="M150 88 L160 130 L180 400 M185 118 L190 385"/>
<!-- leader 15/18 -->
<path class="l" d="M754 442 L888 442"/>
<!-- leader to 40 -->
<path class="l" d="M490 514 L490 555 L628 605 L632 812" style="stroke-width:0.9px"/>
</g>
<!-- TILE O: (740,416) 4x : glass 16/19, screw 40 -->
<g transform="translate(740,416) scale(0.25)">
<path class="f" d="M148 135 C150 112 170 98 192 104 L500 222 C525 232 537 245 536 270 L532 445 C530 468 518 480 498 474 L165 348 C145 340 135 330 136 310 Z"/>
<path class="l" d="M505 232 C518 240 524 250 523 268 L519 450 C518 462 512 470 504 472"/>
<path class="l" d="M160 118 C168 108 180 106 194 112 L498 230" style="stroke-width:0.9px"/>
<path class="t" d="M195 255 L270 345 M215 250 L292 340 M290 175 L375 268 M292 215 L428 388 M308 212 L448 385 M390 292 L482 402"/>
<path class="l" d="M125 215 L148 215"/>
<!-- screw 40 -->
<path class="f" d="M622 398 L631 388 L640 398 L640 466 L622 466 Z"/>
<path class="t" d="M622 410 L640 410 M622 422 L640 422 M622 434 L640 434 M622 446 L640 446 M622 458 L640 458"/>
<path class="f" d="M612 468 L650 468 L650 488 L640 494 L620 494 L612 488 Z"/>
<path class="l" d="M650 440 L664 440"/>
</g>
<!-- FR arrow -->
<g>
<path d="M1014.4 59.8 L1035 52.8 L1036.2 48.8 L1049 55.6 L1043.1 68.1 L1041.9 65.6 L1018.8 72.5 Z" fill="#111" stroke="#111" stroke-width="0.8" stroke-linejoin="round"/>
<text x="985.5" y="82.3" transform="rotate(-18 985.5 82.3)" style="font-weight:bold;font-size:16.5px;letter-spacing:1.6px;stroke:#111;stroke-width:1.3px;stroke-linejoin:round" fill="#111">FR.</text>
</g>
<!-- LABELS -->
<g id="labels">
<text x="132.5" y="61.3">1</text>
<text x="69" y="167">4</text>
<text x="165.5" y="167">33</text>
<text x="212" y="183.5">2</text>
<text x="91" y="204.7">3</text>
<text x="147" y="229.5">38</text>
<text x="25" y="317">27</text>
<text x="85.5" y="302.5">28</text>
<text x="138" y="382.5">39</text>
<text x="176" y="435.5">29</text>
<text x="269" y="353.5">7</text>
<text x="327" y="440.5">29</text>
<text x="363" y="440.5">34</text>
<text x="299.5" y="534">6</text>
<text x="451" y="132.5">31</text>
<text x="485.5" y="178">26</text>
<text x="650.5" y="36">25</text>
<text x="684.5" y="80.5">36</text>
<text x="862.5" y="48">8</text>
<text x="773.3" y="34.7">14</text>
<text x="757" y="62">13</text>
<text x="733" y="89.5">11</text>
<text x="755.5" y="117.5">32</text>
<text x="727" y="132"><tspan font-size="11">1</tspan>0</text>
<text x="856" y="97">9</text>
<text x="966" y="131">25</text>
<text x="963" y="156">36</text>
<text x="834.5" y="253">12</text>
<text x="887" y="293.5">31</text>
<text x="916" y="325">24</text>
<text x="704" y="313.5">35</text>
<text x="743.5" y="313.5">37</text>
<text x="1079.5" y="280">36</text>
<text x="456" y="305">22</text>
<text x="518" y="310.5">5</text>
<text x="492" y="333">41</text>
<text x="572" y="268">20</text>
<text x="598" y="278">30</text>
<text x="623" y="282.4">17</text>
<text x="664" y="395">21</text>
<text x="663" y="414.5">23</text>
<text x="967" y="419">15</text>
<text x="967" y="436">18</text>
<text x="753.5" y="469">16</text>
<text x="753.5" y="487">19</text>
<text x="907" y="533">40</text>
</g>
</svg>
</body></html>
